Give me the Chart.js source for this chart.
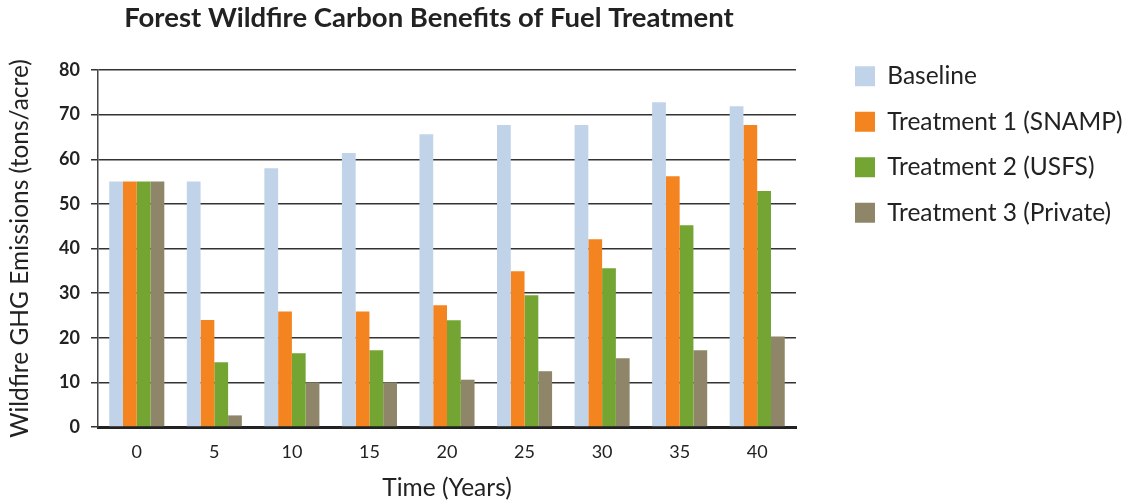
<!DOCTYPE html>
<html>
<head>
<meta charset="utf-8">
<script src="https://cdn.jsdelivr.net/npm/chart.js@4.4.1/dist/chart.umd.min.js"></script>
<style>
  html, body { margin: 0; padding: 0; background: #fff; }
  #wrap { width: 1141px; height: 503px; }
</style>
</head>
<body>
<div id="wrap"><canvas id="fireChart"></canvas></div>
<script>
var years = ['0', '5', '10', '15', '20', '25', '30', '35', '40'];
var seriesNames = ['Baseline', 'Treatment 1 (SNAMP)', 'Treatment 2 (USFS)', 'Treatment 3 (Private)'];
var baseline   = [55, 55, 58, 61.4, 65.6, 67.7, 67.7, 72.8, 71.9];
var treatment1 = [55, 24, 25.9, 25.9, 27.3, 34.9, 42.1, 56.2, 67.7];
var treatment2 = [55, 14.5, 16.5, 17.2, 23.9, 29.5, 35.6, 45.2, 52.9];
var treatment3 = [55, 2.6, 10, 10, 10.6, 12.5, 15.4, 17.2, 20.3];
var barColors = ['#c1d3e9', '#f4841f', '#74a533', '#8f866a'];

(function () {
  'use strict'

  Chart.defaults.font.family = 'Lato, "Open Sans", sans-serif';
  Chart.defaults.color = '#222';

  // title centred over the plot + axis part, legend pushed to its spot
  var placeBlocks = {
    id: 'placeBlocks',
    afterLayout: function (chart) {
      chart.titleBlock.left = 0;
      chart.titleBlock.right = 858;
      chart.legend.left = 834;
      chart.legend.right = 1141;
    }
  };

  var valueArr = [baseline, treatment1, treatment2, treatment3];
  var datasets = [];
  for (var i in valueArr) {
    datasets.push({
      label: seriesNames[i],
      data: valueArr[i],
      backgroundColor: barColors[i],
      borderWidth: 0,
      categoryPercentage: 0.71,
      barPercentage: 1.0
    });
  }

  var ctx = document.getElementById('fireChart');
  var myChart = new Chart(ctx, {
    type: 'bar',
    data: { labels: years, datasets: datasets },
    plugins: [placeBlocks],
    options: {
      responsive: true,
      maintainAspectRatio: false,
      animation: false,
      layout: { padding: 0 },
      scales: {
        x: {
          grid: { display: false, drawTicks: false },
          border: { display: true, color: '#222', width: 3 },
          ticks: { padding: 14, color: '#222', font: { size: 18 } },
          title: { display: true, text: 'Time (Years)', color: '#222', font: { size: 24.5 }, padding: { top: 0, bottom: 0.5 } },
          afterFit: function (s) { s.height = 76; }
        },
        y: {
          min: 0, max: 80,
          ticks: { stepSize: 10, padding: 11, color: '#222', font: { size: 18, weight: 'bold' } },
          grid: { color: '#333', lineWidth: 1.5, drawTicks: true, tickLength: 7 },
          border: { display: true, color: '#444', width: 1.5 },
          title: { display: true, text: 'Wildfire GHG Emissions (tons/acre)', color: '#222', font: { size: 24.5 }, padding: { top: 5, bottom: 0 } },
          afterFit: function (s) { s.width = 98; }
        },
        gap: {
          type: 'linear', position: 'right', display: true,
          grid: { display: false, drawTicks: false },
          border: { display: false },
          ticks: { display: false },
          afterFit: function (s) { s.width = s.chart.width - 796 - s.chart.legend.width; }
        }
      },
      plugins: {
        title: {
          display: true,
          fullSize: false,
          text: 'Forest Wildfire Carbon Benefits of Fuel Treatment',
          color: '#222',
          font: { size: 27.5, weight: 'bold' },
          padding: { top: 2, bottom: 35 }
        },
        legend: {
          display: true,
          position: 'right',
          align: 'start',
          title: { display: true, text: '', font: { size: 10, lineHeight: 1 }, padding: { top: 33, bottom: 0 } },
          labels: {
            boxWidth: 20,
            boxHeight: 20,
            padding: 21,
            color: '#222',
            font: { size: 24.5 }
          }
        },
        tooltip: { enabled: false }
      }
    }
  });
})()
</script>
</body>
</html>
